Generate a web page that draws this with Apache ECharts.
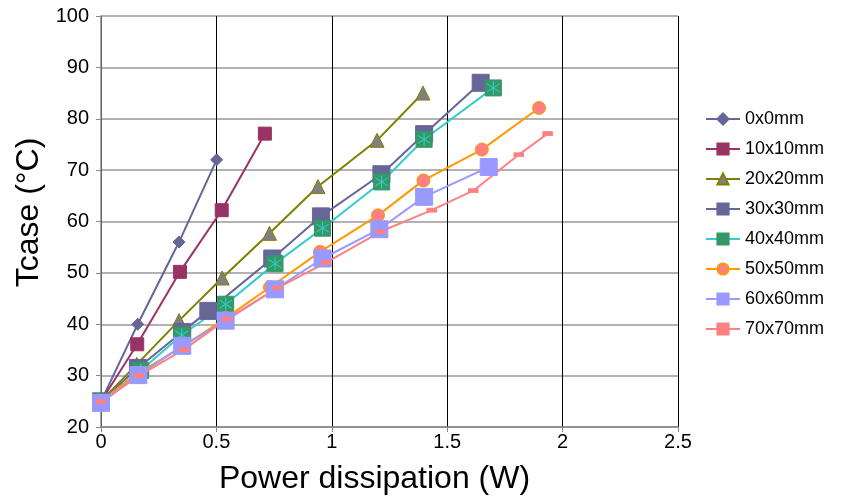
<!DOCTYPE html>
<html>
<head>
<meta charset="utf-8">
<script src="https://cdn.jsdelivr.net/npm/echarts@6/dist/echarts.min.js"></script>
<style>html,body{margin:0;padding:0;background:#fff;}#c{width:841px;height:501px;}</style>
</head>
<body>
<div id="c"></div>
<script>
var names = ['0x0mm','10x10mm','20x20mm','30x30mm','40x40mm','50x50mm','60x60mm','70x70mm'];
var x0 = [0, 0.159, 0.338, 0.501];
var y0 = [25, 40, 56, 72];
var x10 = [0, 0.157, 0.342, 0.523, 0.71];
var y10 = [25, 36.1, 50.2, 62.2, 77.1];
var x20 = [0, 0.155, 0.338, 0.525, 0.73, 0.94, 1.196, 1.395];
var y20 = [25, 32.2, 40.7, 49, 57.7, 66.8, 75.8, 85];
var x30 = [0, 0.16, 0.352, 0.465, 0.742, 0.953, 1.215, 1.4, 1.645];
var y30 = [25, 31.5, 38.5, 42.6, 52.8, 61, 69.2, 77, 87];
var x40 = [0, 0.172, 0.35, 0.54, 0.754, 0.96, 1.216, 1.40, 1.70];
var y40 = [25, 31, 37.9, 43.9, 51.8, 58.7, 67.7, 76, 86];
var x50 = [0, 0.16, 0.35, 0.54, 0.732, 0.949, 1.2, 1.397, 1.65, 1.898];
var y50 = [25, 30.5, 35.5, 41.2, 47.2, 54.1, 61.2, 68, 74, 82.1];
var x60 = [0, 0.162, 0.352, 0.54, 0.754, 0.96, 1.206, 1.40, 1.68];
var y60 = [24.7, 30.1, 35.8, 40.7, 46.8, 52.8, 58.5, 64.8, 70.6];
var x70 = [0, 0.165, 0.36, 0.545, 0.765, 0.975, 1.21, 1.433, 1.613, 1.81, 1.935];
var y70 = [25, 30, 35.1, 41, 47.1, 52, 58, 62.2, 66, 73, 77.1];
var xTicks = [0, 0.5, 1, 1.5, 2, 2.5];
var yTicks = [20, 30, 40, 50, 60, 70, 80, 90, 100];

function pairs(xs, ys){ return xs.map(function(v,i){ return [v, ys[i]]; }); }

var FONT = 'Liberation Sans';
var styles = [
  {line:'#666699', sym:'diamond', size:12, fill:'#666699', border:'#666699'},
  {line:'#993366', sym:'rect', size:13, fill:'#993366', border:'#993366'},
  {line:'#808000', sym:'triangle', size:14, fill:'#808080', border:'#808000'},
  {line:'#666699', sym:'rect', size:17, fill:'#666699', border:'#666699'},
  {line:'#33CCCC', sym:'rect', size:16, fill:'#339966', border:'#339966'},
  {line:'#FF9900', sym:'circle', size:13, fill:'#FF8080', border:'#FF9900'},
  {line:'#9999FF', sym:'rect', size:17, fill:'#9999FF', border:'#9999FF'},
  {line:'#FF8080', sym:'rect', size:[9,4], fill:'#FF8080', border:'#FF8080'}
];
var datas = [pairs(x0,y0), pairs(x10,y10), pairs(x20,y20), pairs(x30,y30), pairs(x40,y40), pairs(x50,y50), pairs(x60,y60), pairs(x70,y70)];

// asterisk made from thin filled bars
var AST = 'path://M9.3,0L10.7,0L10.7,20L9.3,20Z' +
  'M1.8,4.4L2.5,3.2L18.2,15.6L17.5,16.8Z' +
  'M17.5,3.2L18.2,4.4L2.5,16.8L1.8,15.6Z';

var series = [];
names.forEach(function(n, i){
  var s = styles[i];
  series.push({
    name: n, type: 'line', data: datas[i], z: (i <= 4 ? 2 : 4),
    symbol: s.sym, symbolSize: s.size, showAllSymbol: true,
    lineStyle: {color: s.line, width: 2},
    itemStyle: {color: s.fill, borderColor: s.border, borderWidth: 1},
    emphasis: {disabled: true}, animation: false
  });
  if (i === 4) {
    series.push({
      name: '40x40mm_ast', type: 'scatter', data: datas[i], z: 3,
      symbol: AST, symbolSize: 13, silent: true,
      itemStyle: {color: '#33CCCC', opacity: 1},
      animation: false
    });
  }
});

var chart = echarts.init(document.getElementById('c'), null, {renderer: 'canvas'});
chart.setOption({
  animation: false,
  backgroundColor: '#fff',
  grid: {left: 101, top: 16, width: 577, height: 411, containLabel: false},
  legend: {
    data: names,
    orient: 'vertical', left: 700, top: 105,
    itemWidth: 34, itemHeight: 14, itemGap: 12,
    textStyle: {fontFamily: FONT, fontSize: 18, color: '#000'},
    selectedMode: false
  },
  xAxis: {
    type: 'value', min: 0, max: 2.5, interval: 0.5,
    name: 'Power dissipation (W)', nameLocation: 'middle', nameGap: 36,
    nameTextStyle: {fontFamily: FONT, fontSize: 32, color: '#000', padding: [0, 30, 0, 0]},
    axisLine: {show: true, onZero: false, lineStyle: {color: '#888', width: 1.5}},
    axisTick: {show: true, inside: false, length: 5, lineStyle: {color: '#888'}},
    axisLabel: {fontFamily: FONT, fontSize: 20, color: '#000', margin: 5,
      formatter: function(v){ return String(v); }},
    splitLine: {show: true, lineStyle: {color: '#000', width: 1}}
  },
  yAxis: {
    type: 'value', min: 20, max: 100, interval: 10,
    name: 'Tcase (°C)', nameLocation: 'middle', nameGap: 50, nameRotate: 90,
    nameTextStyle: {fontFamily: FONT, fontSize: 32, color: '#000', padding: [0, 0, 0, 18]},
    axisLine: {show: true, lineStyle: {color: '#888', width: 1.5}},
    axisTick: {show: true, inside: false, length: 5, lineStyle: {color: '#888'}},
    axisLabel: {fontFamily: FONT, fontSize: 20, color: '#000', margin: 12},
    splitLine: {show: true, lineStyle: {color: '#999', width: 1.5}}
  },
  series: series
});
</script>
</body>
</html>
